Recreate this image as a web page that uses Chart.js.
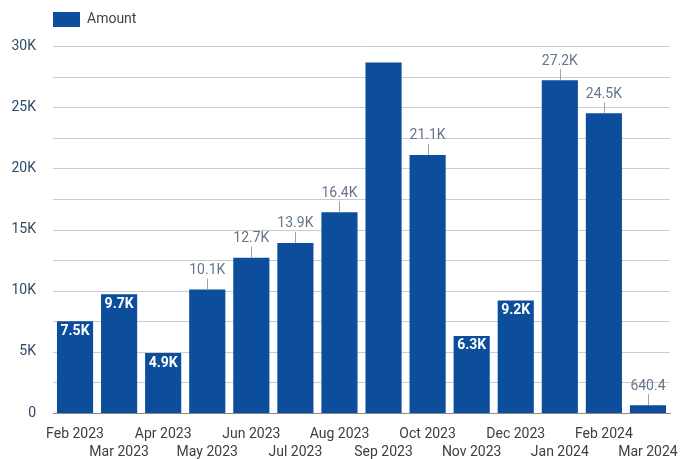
<!DOCTYPE html>
<html>
<head>
<meta charset="utf-8">
<script src="https://cdn.jsdelivr.net/npm/chart.js@4"></script>
<style>
  html, body { margin: 0; padding: 0; background: #fff; }
  #wrap { width: 685px; height: 459px; }
</style>
</head>
<body>
<div id="wrap"><canvas id="myChart"></canvas></div>
<script>
const months = ['Feb 2023', 'Mar 2023', 'Apr 2023', 'May 2023', 'Jun 2023', 'Jul 2023', 'Aug 2023',
  'Sep 2023', 'Oct 2023', 'Nov 2023', 'Dec 2023', 'Jan 2024', 'Feb 2024', 'Mar 2024'];
const amounts = [7500, 9700, 4900, 10100, 12700, 13900, 16400, 28650, 21100, 6300, 9200, 27200, 24500, 640.4];
const yTicks = [0, 5000, 10000, 15000, 20000, 25000, 30000];
const yGrid = [2500, 5000, 7500, 10000, 12500, 15000, 17500, 20000, 22500, 25000, 27500, 30000];

const barColor = '#0c4d9c';

function fmt(v) {
  return v >= 1000 ? (v / 1000).toFixed(1) + 'K' : v.toFixed(1);
}

// horizontal grid every 2.5K, behind the bars
const halfGrid = {
  id: 'halfGrid',
  beforeDatasetsDraw(chart) {
    const c = chart.ctx;
    const area = chart.chartArea;
    const y = chart.scales.y;
    c.save();
    c.strokeStyle = '#cccccc';
    c.lineWidth = 1;
    yGrid.forEach(v => {
      const py = Math.round(y.getPixelForValue(v)) + 0.5;
      c.beginPath();
      c.moveTo(area.left, py);
      c.lineTo(area.right, py);
      c.stroke();
    });
    c.restore();
  }
};

// value labels: mid-size bars get white text inside, the rest a grey label with a short stem
const valueLabels = {
  id: 'valueLabels',
  afterDatasetsDraw(chart) {
    const c = chart.ctx;
    const area = chart.chartArea;
    const meta = chart.getDatasetMeta(0);
    c.save();
    c.textAlign = 'center';
    meta.data.forEach((bar, i) => {
      const v = amounts[i];
      const txt = fmt(v);
      const h = bar.base - bar.y;
      if (v < 10000 && h > 24) {
        c.font = 'bold 14px Roboto';
        c.fillStyle = '#ffffff';
        c.textBaseline = 'top';
        c.fillText(txt, bar.x, bar.y + 3);
      } else {
        const ty = bar.y - 17;
        if (ty - 7 < area.top) return;
        c.strokeStyle = '#9aa4ae';
        c.lineWidth = 1;
        c.beginPath();
        c.moveTo(Math.round(bar.x) + 0.5, bar.y);
        c.lineTo(Math.round(bar.x) + 0.5, bar.y - 11);
        c.stroke();
        c.font = '14px Roboto';
        c.fillStyle = '#66768a';
        c.textBaseline = 'bottom';
        c.fillText(txt, bar.x, bar.y - 12);
      }
    });
    c.restore();
  }
};

// legend: line it up with the plot's left edge and leave extra room below it
const legendShift = {
  id: 'legendShift',
  beforeLayout(chart) {
    const lg = chart.legend;
    if (lg && !lg._padded) {
      const fit = lg.fit;
      lg.fit = function () { fit.call(this); this.height += 9; };
      lg._padded = true;
    }
  },
  afterLayout(chart) {
    chart.legend.left += 43;
    chart.legend.right += 43;
  }
};

// odd months go on a second row under the axis
const xLabels = months.map((m, i) => i % 2 === 0 ? [m, ''] : ['', m]);

new Chart(document.getElementById('myChart'), {
  type: 'bar',
  data: {
    labels: xLabels,
    datasets: [{
      label: 'Amount',
      data: amounts,
      backgroundColor: barColor,
      borderWidth: 0,
      barPercentage: 0.82,
      categoryPercentage: 1
    }]
  },
  options: {
    responsive: true,
    maintainAspectRatio: false,
    animation: false,
    layout: { padding: { left: 0, right: 15, top: 2, bottom: 0 } },
    plugins: {
      legend: {
        position: 'top',
        align: 'start',
        labels: {
          boxWidth: 27,
          boxHeight: 15,
          padding: 10,
          color: '#444',
          font: { family: 'Roboto', size: 14 }
        }
      },
      tooltip: { enabled: false }
    },
    scales: {
      x: {
        afterFit(scale) { scale.height = 46; },
        grid: { display: false },
        border: { color: '#8a8a8a' },
        ticks: {
          autoSkip: false,
          maxRotation: 0,
          padding: 4,
          color: '#3b4046',
          font: { family: 'Roboto', size: 14, lineHeight: 1.3 }
        }
      },
      y: {
        min: 0,
        max: 30000,
        afterFit(scale) { scale.width = 53; },
        border: { display: false },
        grid: { display: false },
        ticks: {
          stepSize: 5000,
          padding: 9,
          color: '#2e4a66',
          font: { family: 'Roboto', size: 14 },
          callback: v => yTicks.includes(v) ? (v === 0 ? '0' : v / 1000 + 'K') : ''
        }
      }
    }
  },
  plugins: [halfGrid, valueLabels, legendShift]
});
</script>
</body>
</html>
